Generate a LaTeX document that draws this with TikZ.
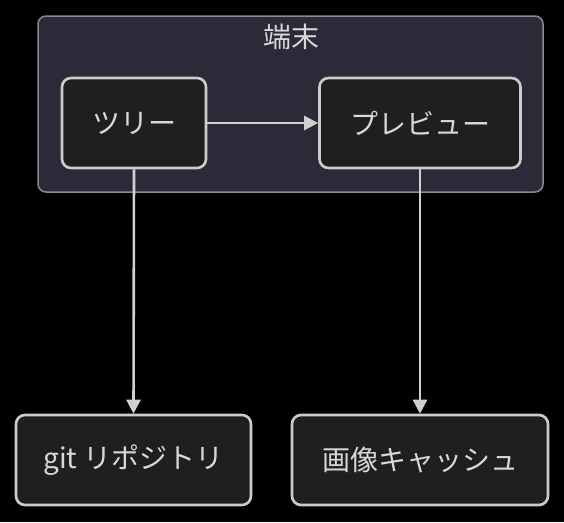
\documentclass[tikz,border=0pt]{standalone}
\usepackage{fontspec}
\setmainfont{Noto Sans CJK JP}
\usetikzlibrary{arrows.meta}
\definecolor{bg}{HTML}{000000}
\definecolor{grpfill}{HTML}{2A2A38}
\definecolor{grpline}{HTML}{8A8A8A}
\definecolor{nodefill}{HTML}{1F1F1F}
\definecolor{nodeline}{HTML}{CCCCCC}
\definecolor{txt}{HTML}{D8D8D8}
\definecolor{edge}{HTML}{D0D0D0}
\tikzset{
  px/.style={x=1pt,y=-1pt},
  boxnode/.style={draw=nodeline,fill=nodefill,line width=2.6pt,rounded corners=9pt,
    text=txt,font=\fontsize{28}{32}\selectfont,inner sep=0pt,anchor=center},
  conn/.style={draw=edge,line width=2.6pt,-{Triangle[length=14pt,width=14pt]}},
}
\begin{document}
\begin{tikzpicture}[px]
\useasboundingbox[fill=bg] (0,0) rectangle (564,522);
\draw[draw=grpline,fill=grpfill,line width=1.5pt,rounded corners=8pt] (38,16) rectangle (543,192);
\node[text=txt,font=\fontsize{28}{32}\selectfont] (title) at (291,37) {端末};
\node[boxnode,minimum width=144pt,minimum height=90pt] (tree) at (134,123) {ツリー};
\node[boxnode,minimum width=201pt,minimum height=90pt] (prev) at (420,123) {プレビュー};
\node[boxnode,minimum width=235pt,minimum height=90pt] (git) at (133.5,460) {git リポジトリ};
\node[boxnode,minimum width=256pt,minimum height=90pt] (cache) at (420,460) {画像キャッシュ};
\draw[conn] (tree.east) -- (prev.west);
\draw[conn] (tree.south) -- (git.north);
\draw[conn] (prev.south) -- (cache.north);
\end{tikzpicture}
\end{document}
